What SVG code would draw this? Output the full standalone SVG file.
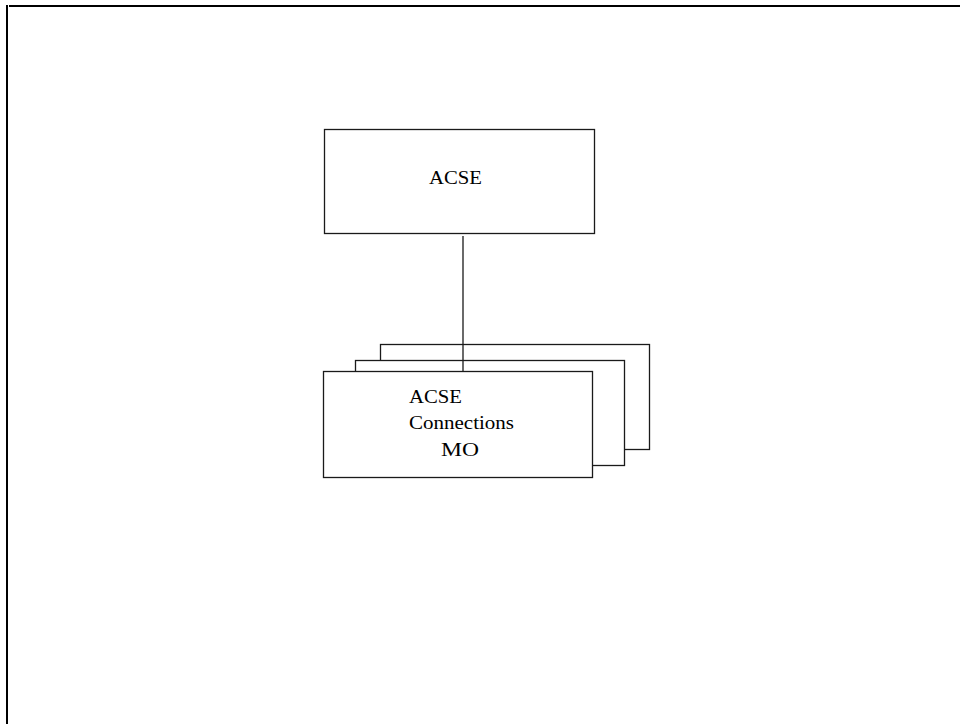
<svg xmlns="http://www.w3.org/2000/svg" width="960" height="724" viewBox="0 0 960 724">
<style>
.box{fill:#fff;stroke:#1a1a1a;stroke-width:1.3}
.lbl{font-family:"Liberation Serif","Times New Roman",serif;font-size:19px;fill:#000}
.frame{stroke:#000;stroke-width:2;fill:none}
.conn{stroke:#1a1a1a;stroke-width:1.3;fill:none}
</style>
<rect width="960" height="724" fill="#fff"/>
<g id="frame">
<line class="frame" x1="9" y1="6" x2="960" y2="6"/>
<line class="frame" x1="7" y1="5" x2="7" y2="724"/>
</g>
<g id="acse">
<rect class="box" x="324.5" y="129.5" width="270" height="104"/>
<text class="lbl" x="429" y="184" textLength="53" lengthAdjust="spacingAndGlyphs">ACSE</text>
</g>
<g id="acse-connections-mo">
<rect class="box" x="380.5" y="344.5" width="269" height="105"/>
<rect class="box" x="355.5" y="360.5" width="269" height="105"/>
<rect class="box" x="323.5" y="371.5" width="269" height="106"/>
<text class="lbl" x="409" y="403" textLength="53" lengthAdjust="spacingAndGlyphs">ACSE</text>
<text class="lbl" x="409" y="429" textLength="105" lengthAdjust="spacingAndGlyphs">Connections</text>
<text class="lbl" x="441" y="456" textLength="38" lengthAdjust="spacingAndGlyphs">MO</text>
</g>
<g id="connectors">
<line class="conn" x1="463" y1="236" x2="463" y2="372"/>
</g>
</svg>
